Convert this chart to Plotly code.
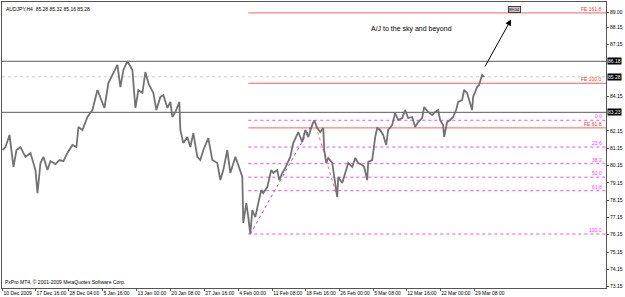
import plotly.graph_objects as go

# ---- data ----
bars = [2, 5, 9, 13, 16, 20, 25, 30, 35, 37, 40, 43, 47, 50, 55, 59, 63, 67, 72, 76,
        78, 82, 87, 92, 97, 100, 104, 108, 112, 117, 120, 123, 127, 132, 135, 138, 142, 145, 148, 153,
        156, 160, 163, 167, 170, 172, 175, 179, 180, 183, 187, 190, 193, 197, 200, 203, 208, 212, 217, 220,
        223, 227, 230, 235, 238, 240, 242, 243, 246, 248, 250, 252, 255, 258, 261, 263, 267, 271, 273, 277,
        279, 282, 285, 290, 293, 298, 302, 305, 308, 312, 314, 317, 320, 323, 324, 326, 328, 332, 334, 337,
        338, 342, 345, 348, 352, 355, 358, 362, 364, 367, 368, 372, 375, 377, 380, 383, 386, 388, 392, 395,
        398, 402, 405, 408, 412, 415, 418, 422, 424, 428, 432, 435, 438, 440, 443, 444, 447, 450, 453, 456,
        458, 462, 464, 467, 469, 472, 473, 477, 479, 482, 484]
prices = [81.05, 81.22, 81.92, 80.07, 81.05, 81.22, 80.65, 80.88, 79.89, 78.56, 80.30, 80.65, 79.89, 80.41, 80.24, 80.47, 80.41, 80.88, 81.34, 81.22,
          82.38, 82.21, 82.96, 83.36, 84.52, 84.12, 83.48, 84.92, 85.39, 85.97, 84.69, 85.68, 86.18, 85.68, 83.48, 84.52, 84.35, 85.56, 84.92, 84.35,
          83.36, 84.12, 84.23, 83.48, 83.83, 82.96, 83.25, 83.83, 82.21, 81.45, 81.80, 81.22, 82.03, 80.65, 80.47, 81.05, 81.74, 80.47, 80.30, 79.31,
          79.89, 81.05, 79.72, 80.65, 80.18, 79.78, 79.49, 76.83, 77.98, 77.17, 76.19, 77.58, 77.17, 77.98, 78.74, 78.56, 78.91, 79.89, 79.72, 79.89,
          79.31, 79.72, 80.01, 80.65, 81.45, 82.09, 81.51, 82.21, 81.80, 82.50, 82.77, 82.32, 82.09, 82.32, 81.05, 80.30, 80.59, 80.30, 79.49, 78.33,
          79.49, 79.14, 79.72, 80.30, 80.07, 80.59, 80.30, 80.18, 80.07, 79.31, 80.36, 80.47, 81.80, 82.32, 82.21, 81.92, 81.34, 82.21, 82.50, 83.19,
          82.78, 82.90, 83.36, 82.90, 82.96, 82.38, 82.67, 82.90, 83.54, 83.25, 83.07, 83.25, 83.36, 82.78, 82.50, 81.80, 82.67, 82.78, 82.96, 83.36,
          83.83, 83.94, 84.52, 84.35, 83.94, 83.36, 84.12, 84.69, 84.81, 85.39, 85.28]

tick_bars = [2, 35, 68, 102, 136, 170, 204, 238, 272, 305, 339, 373, 406, 440, 474]
tick_dates = ["10 Dec 2009", "17 Dec 16:00", "28 Dec 04:00", "5 Jan 16:00", "13 Jan 00:00",
              "20 Jan 08:00", "27 Jan 16:00", "4 Feb 00:00", "11 Feb 08:00", "18 Feb 16:00",
              "26 Feb 00:00", "5 Mar 08:00", "12 Mar 16:00", "22 Mar 00:00", "29 Mar 08:00"]

price_ticks = [73.15, 74.15, 75.15, 76.15, 77.15, 78.15, 79.15, 80.15, 81.15, 82.15, 84.15, 87.15, 88.15, 89.00]
price_tick_text = ["73.15", "74.15", "75.15", "76.15", "77.15", "78.15", "79.15", "80.15", "81.15", "82.15",
                   "84.15", "87.15", "88.15", "89.00"]

res_levels = [86.18, 83.23]
bid_level = 85.28

fib_names = ["0.0", "23.6", "38.2", "50.0", "61.8", "100.0"]
fib_levels = [82.77, 81.22, 80.26, 79.48, 78.70, 76.19]
fe_names = ["FE 161.8", "FE 100.0", "FE 61.8"]
fe_levels = [88.98, 84.91, 82.33]

fib_start_bar = 248
swing_bars = [250, 314, 337]
swing_prices = [76.19, 82.77, 78.33]

arrow_bars = [484, 511]
arrow_prices = [85.79, 88.60]
target_label = "89.04"
target_bar = 514
target_price = 89.17

title_text = "AUDJPY,H4  85.28 85.32 85.16 85.28"
copyright_text = "PxPro MT4, \u00a9 2001-2009 MetaQuotes Software Corp."
comment_text = "A/J to the sky and beyond"

X0, X1 = 1.5, 606
Y0, Y1 = 73.07, 89.61

small = dict(family="Liberation Sans, Arial, sans-serif", size=5, color="#000000")

fig = go.Figure()

# swing (fibo) trend lines
fig.add_trace(go.Scatter(x=swing_bars[:2], y=swing_prices[:2], mode="lines",
                         line=dict(color="#b04cd0", width=1, dash="dot"), hoverinfo="skip"))
fig.add_trace(go.Scatter(x=swing_bars[1:], y=swing_prices[1:], mode="lines",
                         line=dict(color="#ff6a6a", width=1, dash="dot"), hoverinfo="skip"))

# price
fig.add_trace(go.Scatter(x=bars, y=prices, mode="lines",
                         line=dict(color="#727272", width=1.8), hoverinfo="skip"))

shapes = []
for lv in res_levels:
    shapes.append(dict(type="line", xref="paper", x0=0, x1=1, yref="y", y0=lv, y1=lv,
                       line=dict(color="#5a5a5a", width=1), layer="below"))
shapes.append(dict(type="line", xref="paper", x0=0, x1=1, yref="y", y0=bid_level, y1=bid_level,
                   line=dict(color="#c8c8d8", width=1, dash="dot"), layer="below"))
for lv in fib_levels:
    shapes.append(dict(type="line", xref="x", x0=fib_start_bar, x1=X1, yref="y", y0=lv, y1=lv,
                       line=dict(color="#ff44ff", width=1, dash="dot"), layer="below"))
for lv in fe_levels:
    shapes.append(dict(type="line", xref="x", x0=fib_start_bar, x1=X1, yref="y", y0=lv, y1=lv,
                       line=dict(color="#ff6060", width=1), layer="below"))

annotations = []
for name, lv in zip(fib_names, fib_levels):
    annotations.append(dict(x=X1, y=lv, xref="x", yref="y", text=name, showarrow=False,
                            xanchor="right", yanchor="bottom", xshift=-2, yshift=-1,
                            font=dict(family="Liberation Sans, Arial", size=5, color="#ff33ff")))
for name, lv in zip(fe_names, fe_levels):
    annotations.append(dict(x=X1, y=lv, xref="x", yref="y", text=name, showarrow=False,
                            xanchor="right", yanchor="bottom", xshift=-2, yshift=-1,
                            font=dict(family="Liberation Sans, Arial", size=5, color="#ff3030")))
# highlighted price boxes on the axis
for lv in res_levels + [bid_level]:
    annotations.append(dict(x=1, y=lv, xref="paper", yref="y", text=f"{lv:.2f}", showarrow=False,
                            xanchor="left", yanchor="middle", xshift=1,
                            bgcolor="#000000", borderpad=0,
                            font=dict(family="Liberation Sans, Arial", size=5, color="#ffffff")))
# arrow
annotations.append(dict(x=arrow_bars[1], y=arrow_prices[1], ax=arrow_bars[0], ay=arrow_prices[0],
                        xref="x", yref="y", axref="x", ayref="y", showarrow=True,
                        arrowhead=2, arrowsize=1.2, arrowwidth=1, arrowcolor="#000000", text=""))
annotations.append(dict(x=target_bar, y=target_price, xref="x", yref="y", text=target_label,
                        showarrow=False, bgcolor="#c8c8c8", bordercolor="#404040", borderwidth=1,
                        borderpad=0, font=dict(family="Liberation Sans, Arial", size=4, color="#000000")))
annotations.append(dict(x=411, y=88.03, xref="x", yref="y", text=comment_text, showarrow=False,
                        font=dict(family="Liberation Sans, Arial", size=7, color="#000000")))
annotations.append(dict(x=0, y=1, xref="paper", yref="paper", text=title_text, showarrow=False,
                        xanchor="left", yanchor="top", xshift=2, yshift=-2, font=small))
annotations.append(dict(x=0, y=0, xref="paper", yref="paper", text=copyright_text, showarrow=False,
                        xanchor="left", yanchor="bottom", xshift=1, yshift=1, font=small))

fig.update_layout(
    width=625, height=297,
    margin=dict(l=2, r=19, t=2, b=9),
    paper_bgcolor="#ffffff", plot_bgcolor="#ffffff",
    showlegend=False,
    shapes=shapes, annotations=annotations,
    xaxis=dict(range=[X0, X1], showgrid=False, zeroline=False, automargin=False,
               tickmode="array", tickvals=tick_bars, ticktext=tick_dates, tickangle=0,
               ticks="outside", ticklen=2, tickcolor="#555555",
               ticklabelposition="outside right",
               tickfont=small, showline=True, linecolor="#555555", linewidth=1, mirror=True),
    yaxis=dict(range=[Y0, Y1], side="right", showgrid=False, zeroline=False, automargin=False,
               tickmode="array", tickvals=price_ticks, ticktext=price_tick_text,
               ticks="outside", ticklen=2, tickcolor="#555555",
               tickfont=small, showline=True, linecolor="#555555", linewidth=1, mirror=True),
)

fig.write_html("out.html")
